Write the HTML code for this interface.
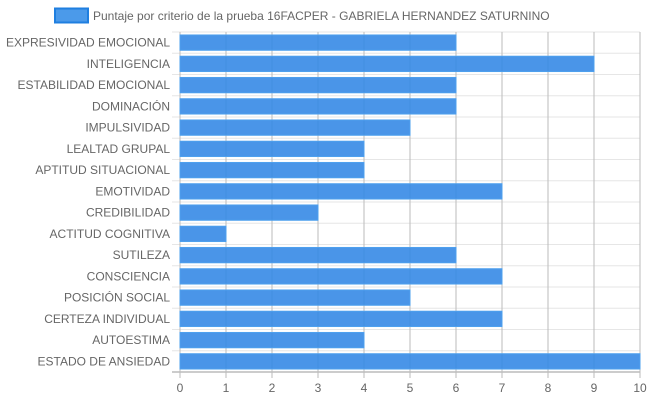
<!DOCTYPE html>
<html><head><meta charset="utf-8"><style>
body{margin:0;background:#fff;width:650px;height:400px;overflow:hidden}
svg{display:block;font-family:"Liberation Sans",sans-serif}
</style></head><body>
<svg id="chart" width="650" height="400">
<g>
<rect x="55" y="8.5" width="33" height="14" fill="#4b9aea" stroke="#1f7fe0" stroke-width="2"/>
<text x="93" y="20" font-size="12" fill="#666">Puntaje por criterio de la prueba 16FACPER - GABRIELA HERNANDEZ SATURNINO</text>
</g>
<g id="grid"></g><g id="bars"></g><g id="labels"></g>
</svg>
<script>
const categories=["EXPRESIVIDAD EMOCIONAL","INTELIGENCIA","ESTABILIDAD EMOCIONAL","DOMINACIÓN","IMPULSIVIDAD","LEALTAD GRUPAL","APTITUD SITUACIONAL","EMOTIVIDAD","CREDIBILIDAD","ACTITUD COGNITIVA","SUTILEZA","CONSCIENCIA","POSICIÓN SOCIAL","CERTEZA INDIVIDUAL","AUTOESTIMA","ESTADO DE ANSIEDAD"];
const values=[6,9,6,6,5,4,4,7,3,1,6,7,5,7,4,10];
const ticks=[0,1,2,3,4,5,6,7,8,9,10];
const NS="http://www.w3.org/2000/svg";
const L=180,R=640,T=32,B=372,max=10;
const x=v=>L+(R-L)*v/max;
const rowH=(B-T)/categories.length;
const y=i=>T+i*rowH;
function mk(tag,attrs,parent){const e=document.createElementNS(NS,tag);for(const k in attrs)e.setAttribute(k,attrs[k]);parent.appendChild(e);return e;}
const grid=document.getElementById('grid'),bars=document.getElementById('bars'),labels=document.getElementById('labels');
for(let i=0;i<=categories.length;i++){const l=mk('line',{x1:172,x2:R,y1:y(i),y2:y(i),stroke:i==categories.length?'#999':'#e6e6e6','stroke-width':1},grid);

}
ticks.forEach(t=>{const l=mk('line',{x1:x(t),x2:x(t),y1:T,y2:B+6,stroke:'#bbb','stroke-width':1},grid);


const tx=mk('text',{x:x(t),y:B+20,'text-anchor':'middle','font-size':12,fill:'#666'},labels);tx.textContent=t;

});
categories.forEach((c,i)=>{const bh=rowH*0.72,cy=y(i)+rowH/2;
const r=mk('rect',{x:L,y:cy-bh/2,width:x(values[i])-L,height:bh,fill:'rgba(54,138,230,0.9)',stroke:'#4ea0ee','stroke-width':1},bars);


const tx=mk('text',{x:170,y:cy+4,'text-anchor':'end','font-size':12,fill:'#666'},labels);tx.textContent=c;

});
</script>
</body></html>
